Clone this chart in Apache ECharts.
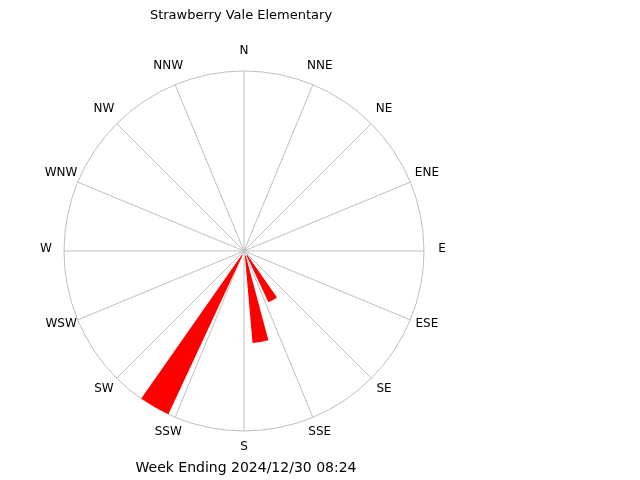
<!DOCTYPE html>
<html>
<head>
<meta charset="utf-8">
<style>html,body{margin:0;padding:0;background:#fff}#c{width:640px;height:480px}</style>
<script src="https://cdn.jsdelivr.net/npm/echarts@6/dist/echarts.min.js"></script>
</head>
<body>
<div id="c"></div>
<script>
const compassLabels = ['N','NNE','NE','ENE','E','ESE','SE','SSE','S','SSW','SW','WSW','W','WNW','NW','NNW'];
const directionBins = [0,10,20,30,40,50,60,70,80,90,100,110,120,130,140,150,160,170,180,190,200,210,220,230,240,250,260,270,280,290,300,310,320,330,340,350];
const windBearings = [150,170,210];
const windValues = [29.5,49.9,100];
const chartTitle = 'Strawberry Vale Elementary';
const chartFooter = 'Week Ending 2024/12/30 08:24';

const binValues = directionBins.map(d => { const i = windBearings.indexOf(d); return i >= 0 ? windValues[i] : 0; });
const font = 'DejaVu Sans';
const chart = echarts.init(document.getElementById('c'), null, {renderer:'canvas'});
chart.setOption({
  animation:false,
  backgroundColor:'#fff',
  title:[
    {text:chartTitle,left:236,top:4,textAlign:'center',textStyle:{fontFamily:font,fontSize:13,fontWeight:'normal',color:'#000',lineHeight:14}},
    {text:chartFooter,left:241,top:456,textAlign:'center',textStyle:{fontFamily:font,fontSize:14,fontWeight:'normal',color:'#000',lineHeight:14}}
  ],
  polar:[
    {center:[244,251],radius:180},
    {center:[244.5,251],radius:[5,180]}
  ],
  angleAxis:[
    {polarIndex:0,type:'value',min:0,max:360,interval:22.5,startAngle:90,clockwise:true,
     axisLine:{show:true,lineStyle:{color:'#c0c0c0',width:1}},axisTick:{show:false},
     splitLine:{show:true,lineStyle:{color:'#c0c0c0',width:1,type:'solid'}},
     axisLabel:{show:false}},
    {polarIndex:1,type:'category',data:directionBins,startAngle:95,clockwise:true,boundaryGap:true,
     axisLine:{show:false},axisTick:{show:false},splitLine:{show:false},axisLabel:{show:false}}
  ],
  radiusAxis:[
    {polarIndex:0,min:0,max:100,axisLine:{show:false},axisTick:{show:false},axisLabel:{show:false},splitLine:{show:false}},
    {polarIndex:1,min:0,max:100,axisLine:{show:false},axisTick:{show:false},axisLabel:{show:false},splitLine:{show:false}}
  ],
  series:[{
    type:'bar',coordinateSystem:'polar',polarIndex:1,data:binValues,barWidth:'100%',barCategoryGap:'0%',
    itemStyle:{color:'#ff0000'},silent:true
  },{
    type:'scatter',coordinateSystem:'polar',polarIndex:0,silent:true,clip:false,symbol:'circle',symbolSize:1,
    itemStyle:{color:'#ffffff',opacity:0},
    data:compassLabels.map((name,i)=>({name,value:[110,i*22.5]})),
    label:{show:true,position:'inside',align:'center',verticalAlign:'middle',opacity:1,
      formatter:p=>p.name,fontFamily:font,fontSize:12,color:'#000'},
    labelLayout:{hideOverlap:false,dy:-2.5}
  }]
});
</script>
</body>
</html>
